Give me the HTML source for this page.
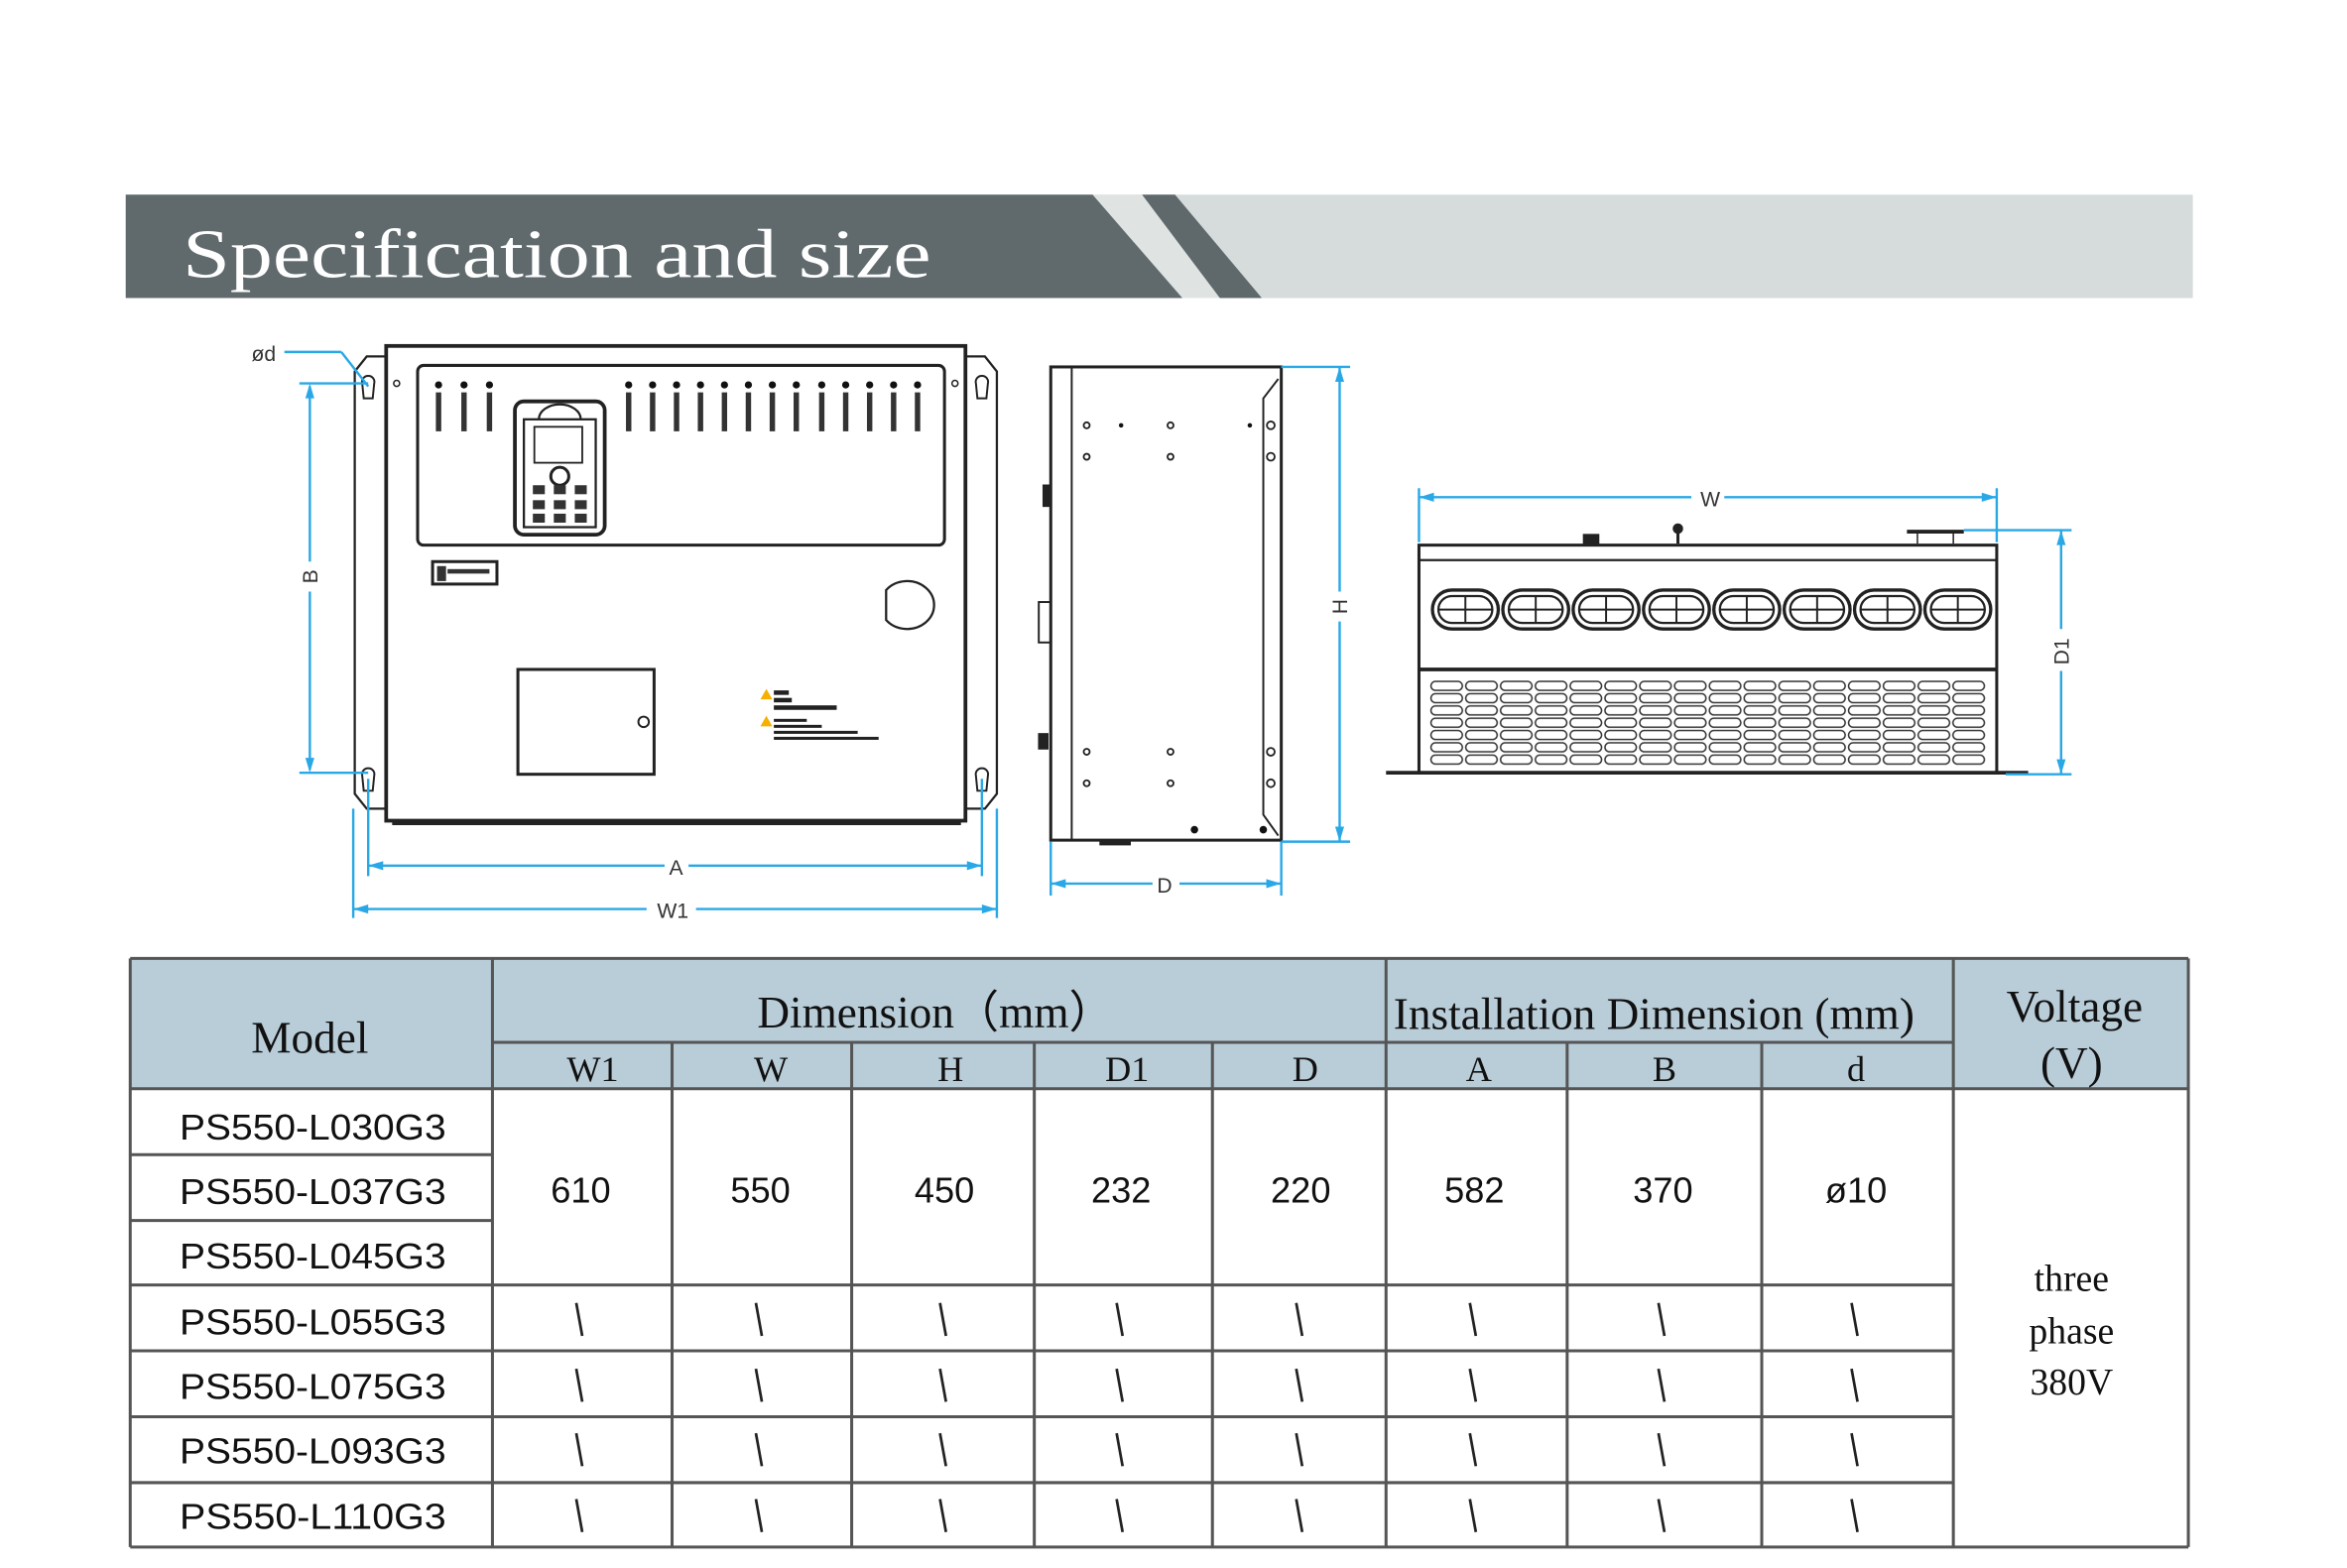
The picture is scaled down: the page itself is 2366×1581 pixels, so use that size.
<!DOCTYPE html>
<html><head><meta charset="utf-8"><style>
html,body{margin:0;padding:0;background:#fff;}
svg{display:block;}
</style></head><body>
<svg width="2366" height="1581" viewBox="0 0 1568 1047" preserveAspectRatio="none" xmlns="http://www.w3.org/2000/svg">
<defs>
<g id="fan">
<rect x="0" y="0" width="44" height="26" rx="13" fill="none" stroke="#222" stroke-width="2.2"/>
<rect x="4" y="4" width="36" height="18" rx="9" fill="none" stroke="#222" stroke-width="1.5"/>
<line x1="22" y1="4" x2="22" y2="22" stroke="#222" stroke-width="1.3"/>
<line x1="4" y1="13" x2="40" y2="13" stroke="#222" stroke-width="1.3"/>
</g>
<pattern id="grille" x="955" y="454" width="23.25" height="8.2" patternUnits="userSpaceOnUse">
<rect x="1" y="1" width="21" height="6" rx="3" fill="none" stroke="#333" stroke-width="1"/>
</pattern>
<g id="term">
<circle cx="0" cy="0" r="2.4" fill="#111"/>
<rect x="-1.8" y="5" width="3.6" height="26" fill="#333"/>
</g>
</defs>
<rect width="1568" height="1047" fill="#fff"/>
<!-- banner -->
<rect x="84" y="130" width="1381" height="69" fill="#d5dcdb"/>
<polygon points="84,130 730,130 790,199 84,199" fill="#606a6d"/>
<polygon points="730,130 763,130 815,199 790,199" fill="#dfe4e3"/>
<polygon points="763,130 785,130 843,199 815,199" fill="#5f686b"/>
<text x="122" y="185" font-family="Liberation Serif, serif" font-size="46" fill="#fff" textLength="500" lengthAdjust="spacingAndGlyphs">Specification and size</text>

<!-- front view -->
<g stroke="#222" fill="none">
<path d="M245,238 L258,238 L258,540 L245,540 L237,530 L237,248 Z" stroke-width="1.5"/>
<path d="M645,238 L658,238 L666,248 L666,530 L658,540 L645,540" stroke-width="1.5"/>
<rect x="258" y="231" width="387" height="317" stroke-width="2.5"/>
<line x1="262" y1="550" x2="642" y2="550" stroke-width="2"/>
<rect x="279" y="244" width="352" height="120" rx="4" stroke-width="2"/>
<rect x="344" y="268" width="60" height="89" rx="6" stroke-width="2.5"/>
<rect x="350" y="280" width="48" height="72" stroke-width="1.5"/>
<rect x="357" y="285" width="32" height="24" stroke-width="1.2"/>
<circle cx="374" cy="318" r="6" stroke-width="2"/>
<path d="M360,280 A14,10 0 0 1 388,280" stroke-width="1.5"/>
<rect x="289" y="375" width="43" height="15" stroke-width="2"/>
<path d="M592,394 A18,16 0 1 1 592,414 Z" stroke-width="1.5"/>
<rect x="346" y="447" width="91" height="70" stroke-width="2"/>
<circle cx="430" cy="482" r="3.5" stroke-width="1.3"/>
<path d="M246,251 a4,4 0 0 1 4,5 l-1,10 h-6 l-1,-10 a4,4 0 0 1 4,-5z" stroke-width="1.3"/>
<path d="M246,513 a4,4 0 0 1 4,5 l-1,10 h-6 l-1,-10 a4,4 0 0 1 4,-5z" stroke-width="1.3"/>
<path d="M656,251 a4,4 0 0 1 4,5 l-1,10 h-6 l-1,-10 a4,4 0 0 1 4,-5z" stroke-width="1.3"/>
<path d="M656,513 a4,4 0 0 1 4,5 l-1,10 h-6 l-1,-10 a4,4 0 0 1 4,-5z" stroke-width="1.3"/>
<circle cx="265" cy="256" r="2" stroke-width="1"/>
<circle cx="638" cy="256" r="2" stroke-width="1"/>
</g>
<g fill="#333">
<rect x="356" y="324" width="8" height="6"/><rect x="370" y="324" width="8" height="6"/><rect x="384" y="324" width="8" height="6"/>
<rect x="356" y="334" width="8" height="6"/><rect x="370" y="334" width="8" height="6"/><rect x="384" y="334" width="8" height="6"/>
<rect x="356" y="343" width="8" height="6"/><rect x="370" y="343" width="8" height="6"/><rect x="384" y="343" width="8" height="6"/>
<rect x="292" y="378" width="6" height="10"/><rect x="299" y="380" width="28" height="3"/>
</g>
<use href="#term" x="293" y="257"/><use href="#term" x="310" y="257"/><use href="#term" x="327" y="257"/>
<use href="#term" x="420" y="257"/><use href="#term" x="436" y="257"/><use href="#term" x="452" y="257"/><use href="#term" x="468" y="257"/>
<use href="#term" x="484" y="257"/><use href="#term" x="500" y="257"/><use href="#term" x="516" y="257"/><use href="#term" x="532" y="257"/>
<use href="#term" x="549" y="257"/><use href="#term" x="565" y="257"/><use href="#term" x="581" y="257"/><use href="#term" x="597" y="257"/><use href="#term" x="613" y="257"/>
<g fill="#222">
<polygon points="512,460 508,467 516,467" fill="#f5b000"/>
<rect x="517" y="461" width="10" height="3"/><rect x="517" y="466" width="12" height="3"/><rect x="517" y="471" width="42" height="3"/>
<polygon points="512,478 508,485 516,485" fill="#f5b000"/>
<rect x="517" y="480" width="22" height="2"/><rect x="517" y="484" width="32" height="2"/><rect x="517" y="488" width="56" height="2"/><rect x="517" y="492" width="70" height="2"/>
</g>
<!-- front dims -->
<g stroke="#2aa8e6" stroke-width="1.6" fill="#2aa8e6">
<line x1="190" y1="235" x2="228" y2="235"/><line x1="228" y1="235" x2="246" y2="258"/>
<line x1="200" y1="256" x2="246" y2="256"/><line x1="200" y1="516" x2="246" y2="516"/>
<line x1="207" y1="258" x2="207" y2="375"/><line x1="207" y1="395" x2="207" y2="514"/>
<polygon points="207,256 204,266 210,266" stroke="none"/><polygon points="207,516 204,506 210,506" stroke="none"/>
<line x1="246" y1="520" x2="246" y2="585"/><line x1="656" y1="520" x2="656" y2="585"/>
<line x1="236" y1="540" x2="236" y2="613"/><line x1="666" y1="540" x2="666" y2="613"/>
<line x1="246" y1="578" x2="444" y2="578"/><line x1="460" y1="578" x2="656" y2="578"/>
<polygon points="246,578 256,575 256,581" stroke="none"/><polygon points="656,578 646,575 646,581" stroke="none"/>
<line x1="236" y1="607" x2="432" y2="607"/><line x1="465" y1="607" x2="666" y2="607"/>
<polygon points="236,607 246,604 246,610" stroke="none"/><polygon points="666,607 656,604 656,610" stroke="none"/>
</g>
<g font-family="Liberation Sans, sans-serif" font-size="14" fill="#333">
<text x="168" y="241">ød</text>
<text x="447" y="584">A</text>
<text x="439" y="613">W1</text>
<text x="212" y="385" transform="rotate(-90 212 385)" text-anchor="middle">B</text>
<text x="773" y="596">D</text>
<text x="900" y="405" transform="rotate(-90 900 405)" text-anchor="middle">H</text>
<text x="1136" y="338">W</text>
<text x="1382" y="435" transform="rotate(-90 1382 435)" text-anchor="middle">D1</text>
</g>

<!-- side view -->
<g stroke="#222" fill="none">
<rect x="702" y="245" width="154" height="316" stroke-width="2"/>
<line x1="716" y1="245" x2="716" y2="561" stroke-width="1.3"/>
<path d="M854,253 L844,266 L844,544 L854,558" stroke-width="1.3"/>
<rect x="697" y="324" width="5" height="14" fill="#222"/>
<rect x="694" y="402" width="8" height="27" stroke-width="1.3"/>
<rect x="694" y="490" width="6" height="10" fill="#222"/>
<rect x="735" y="561" width="20" height="3" fill="#222"/>
<g stroke-width="1.2">
<circle cx="726" cy="284" r="2"/><circle cx="782" cy="284" r="2"/><circle cx="726" cy="305" r="2"/><circle cx="782" cy="305" r="2"/>
<circle cx="849" cy="284" r="2.6"/><circle cx="849" cy="305" r="2.6"/>
<circle cx="726" cy="502" r="2"/><circle cx="782" cy="502" r="2"/><circle cx="726" cy="523" r="2"/><circle cx="782" cy="523" r="2"/>
<circle cx="849" cy="502" r="2.6"/><circle cx="849" cy="523" r="2.6"/>
</g>
</g>
<g fill="#111"><circle cx="749" cy="284" r="1.5"/><circle cx="835" cy="284" r="1.5"/><circle cx="798" cy="554" r="2.5"/><circle cx="844" cy="554" r="2.5"/></g>
<g stroke="#2aa8e6" stroke-width="1.6" fill="#2aa8e6">
<line x1="856" y1="245" x2="902" y2="245"/><line x1="856" y1="562" x2="902" y2="562"/>
<line x1="895" y1="245" x2="895" y2="395"/><line x1="895" y1="415" x2="895" y2="562"/>
<polygon points="895,245 892,255 898,255" stroke="none"/><polygon points="895,562 892,552 898,552" stroke="none"/>
<line x1="702" y1="562" x2="702" y2="598"/><line x1="856" y1="562" x2="856" y2="598"/>
<line x1="702" y1="590" x2="770" y2="590"/><line x1="788" y1="590" x2="856" y2="590"/>
<polygon points="702,590 712,587 712,593" stroke="none"/><polygon points="856,590 846,587 846,593" stroke="none"/>
</g>

<!-- bottom view -->
<g stroke="#222" fill="none">
<rect x="948" y="364" width="386" height="152" stroke-width="2"/>
<line x1="948" y1="374" x2="1334" y2="374" stroke-width="1.5"/>
<line x1="948" y1="447" x2="1334" y2="447" stroke-width="2.5"/>
<line x1="926" y1="516" x2="1355" y2="516" stroke-width="2.5"/>
<rect x="1058" y="357" width="10" height="6" fill="#222"/>
<line x1="1121" y1="352" x2="1121" y2="363" stroke-width="2"/><circle cx="1121" cy="353" r="3" fill="#222"/>
<line x1="1274" y1="355" x2="1312" y2="355" stroke-width="2.5"/><line x1="1281" y1="355" x2="1281" y2="363"/><line x1="1305" y1="355" x2="1305" y2="363"/>
</g>
<use href="#fan" x="957" y="394"/><use href="#fan" x="1004" y="394"/><use href="#fan" x="1051" y="394"/><use href="#fan" x="1098" y="394"/>
<use href="#fan" x="1145" y="394"/><use href="#fan" x="1192" y="394"/><use href="#fan" x="1239" y="394"/><use href="#fan" x="1286" y="394"/>
<rect x="955" y="454" width="372" height="57.4" fill="url(#grille)"/>
<g stroke="#2aa8e6" stroke-width="1.6" fill="#2aa8e6">
<line x1="948" y1="326" x2="948" y2="362"/><line x1="1334" y1="326" x2="1334" y2="362"/>
<line x1="948" y1="332" x2="1130" y2="332"/><line x1="1152" y1="332" x2="1334" y2="332"/>
<polygon points="948,332 958,329 958,335" stroke="none"/><polygon points="1334,332 1324,329 1324,335" stroke="none"/>
<line x1="1312" y1="354" x2="1384" y2="354"/><line x1="1340" y1="517" x2="1384" y2="517"/>
<line x1="1377" y1="354" x2="1377" y2="420"/><line x1="1377" y1="448" x2="1377" y2="517"/>
<polygon points="1377,354 1374,364 1380,364" stroke="none"/><polygon points="1377,517 1374,507 1380,507" stroke="none"/>
</g>

<!-- table -->
<rect x="87" y="640" width="1375" height="87" fill="#b9cdd9"/>
<g stroke="#555" stroke-width="2" fill="none">
<line x1="87" y1="640" x2="1462" y2="640"/>
<line x1="87" y1="727" x2="1462" y2="727"/>
<line x1="329" y1="696" x2="1305" y2="696"/>
<line x1="87" y1="1033" x2="1462" y2="1033"/>
<line x1="87" y1="640" x2="87" y2="1033"/>
<line x1="1462" y1="640" x2="1462" y2="1033"/>
<line x1="329" y1="640" x2="329" y2="1033"/>
<line x1="926" y1="640" x2="926" y2="1033"/>
<line x1="1305" y1="640" x2="1305" y2="1033"/>
<line x1="449" y1="696" x2="449" y2="1033"/>
<line x1="569" y1="696" x2="569" y2="1033"/>
<line x1="691" y1="696" x2="691" y2="1033"/>
<line x1="810" y1="696" x2="810" y2="1033"/>
<line x1="1047" y1="696" x2="1047" y2="1033"/>
<line x1="1177" y1="696" x2="1177" y2="1033"/>
<line x1="87" y1="771" x2="329" y2="771"/>
<line x1="87" y1="815" x2="329" y2="815"/>
<line x1="87" y1="858" x2="1305" y2="858"/>
<line x1="87" y1="902" x2="1305" y2="902"/>
<line x1="87" y1="946" x2="1305" y2="946"/>
<line x1="87" y1="990" x2="1305" y2="990"/>
</g>
<g font-family="Liberation Serif, serif" fill="#111" text-anchor="middle">
<text x="207" y="703" font-size="30">Model</text>
<text x="625" y="686" font-size="30">Dimension（mm）</text>
<text x="1105" y="687" font-size="30" textLength="348" lengthAdjust="spacingAndGlyphs">Installation Dimension (mm)</text>
<text x="1386" y="682" font-size="30">Voltage</text>
<text x="1384" y="720" font-size="30">(V)</text>
<g font-size="24">
<text x="396" y="722">W1</text><text x="515" y="722">W</text><text x="635" y="722">H</text>
<text x="753" y="722">D1</text><text x="872" y="722">D</text><text x="988" y="722">A</text>
<text x="1112" y="722">B</text><text x="1240" y="722">d</text>
</g>
<g font-size="25">
<text x="1384" y="862">three</text>
<text x="1384" y="897">phase</text>
<text x="1384" y="931">380V</text>
</g>
</g>
<g font-family="Liberation Sans, sans-serif" fill="#111" font-size="24">
<text x="120" y="761" textLength="178" lengthAdjust="spacingAndGlyphs">PS550-L030G3</text>
<text x="120" y="804" textLength="178" lengthAdjust="spacingAndGlyphs">PS550-L037G3</text>
<text x="120" y="847" textLength="178" lengthAdjust="spacingAndGlyphs">PS550-L045G3</text>
<text x="120" y="891" textLength="178" lengthAdjust="spacingAndGlyphs">PS550-L055G3</text>
<text x="120" y="934" textLength="178" lengthAdjust="spacingAndGlyphs">PS550-L075G3</text>
<text x="120" y="977" textLength="178" lengthAdjust="spacingAndGlyphs">PS550-L093G3</text>
<text x="120" y="1021" textLength="178" lengthAdjust="spacingAndGlyphs">PS550-L110G3</text>
<g text-anchor="middle">
<text x="388" y="803">610</text><text x="508" y="803">550</text><text x="631" y="803">450</text>
<text x="749" y="803">232</text><text x="869" y="803">220</text><text x="985" y="803">582</text>
<text x="1111" y="803">370</text><text x="1240" y="803">ø10</text>
</g>
</g>
<g stroke="#222" stroke-width="1.8">
<path d="M385,870 l4,22 M505,870 l4,22 M628,870 l4,22 M746,870 l4,22 M866,870 l4,22 M982,870 l4,22 M1108,870 l4,22 M1237,870 l4,22"/>
<path d="M385,914 l4,22 M505,914 l4,22 M628,914 l4,22 M746,914 l4,22 M866,914 l4,22 M982,914 l4,22 M1108,914 l4,22 M1237,914 l4,22"/>
<path d="M385,957 l4,22 M505,957 l4,22 M628,957 l4,22 M746,957 l4,22 M866,957 l4,22 M982,957 l4,22 M1108,957 l4,22 M1237,957 l4,22"/>
<path d="M385,1001 l4,22 M505,1001 l4,22 M628,1001 l4,22 M746,1001 l4,22 M866,1001 l4,22 M982,1001 l4,22 M1108,1001 l4,22 M1237,1001 l4,22"/>
</g>
</svg>
</body></html>
